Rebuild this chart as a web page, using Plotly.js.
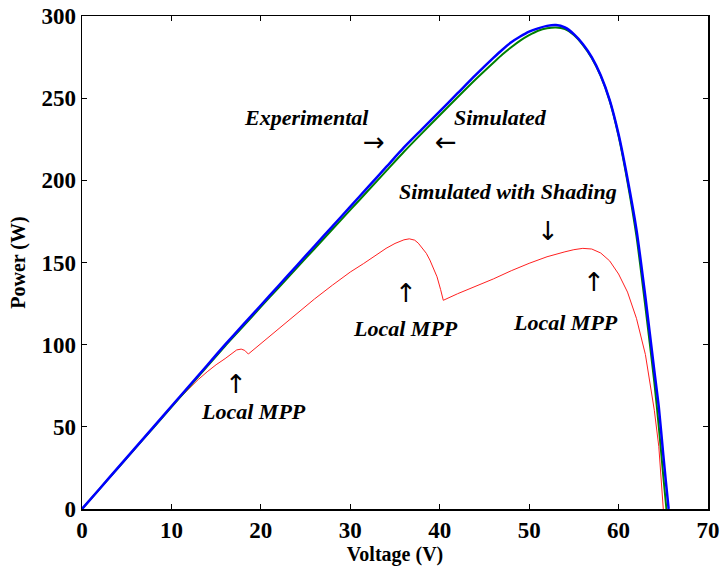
<!DOCTYPE html>
<html>
<head>
<meta charset="utf-8">
<script src="https://cdn.plot.ly/plotly-3.0.1.min.js"></script>
<style>html,body{margin:0;padding:0;background:#fff;}#chart{width:722px;height:568px;}</style>
</head>
<body>
<div id="chart"></div>
<script>
// Experimental (blue)
const expV = [0,2,4,6,8,10,12,14,16,18,20,22,24,26,28,30,32,34,36,38,40,42,44,46,47,48,49,50,51,52,53,54,55,56,57,58,59,60,61,62,63,64,64.5,65,65.3,65.6];
const expP = [0,12.5,25,37.5,50,62.5,75,87.5,100,112,124,136,148,160,172,184,196,208,220,231,242,253,264,274.5,279.5,284,287.5,290.5,292.5,294,294.5,293,289,283,275,264,249,228,201,170,129,84,62,33,16,0];
// Simulated (green)
const simV = [0,2,4,6,8,10,12,14,16,18,20,22,24,26,28,30,32,34,36,38,40,42,44,46,47,48,49,50,51,52,53,54,55,56,57,58,59,60,61,62,63,64,64.5,65,65.35];
const simP = [0,12.4,24.8,37.2,49.6,62,74.4,86.8,99.2,111,123,134.8,146.6,158.4,170.2,182,193.8,205.6,217.4,228.6,239.6,250.6,261.4,271.6,276.6,281,285,288.3,291,292.5,293,292,288.5,282.5,274.5,263.5,248.5,227,199,166,123,77,50,20,0];
// Simulated with shading (red)
const shdV = [0,2,4,6,8,10,11,12,13,14,15,16,17,17.3,17.8,18.2,18.6,20,22,24,26,28,29,30,31.5,33,34,35,36,36.6,37.2,37.6,38,38.5,38.9,39.3,39.7,40.1,40.4,42,44,46,48,50,52,53,54,55,56,57,58,59,60,61,62,63,63.5,64,64.5,64.8,65];
const shdP = [0,12.5,25,37.5,50,62.5,68,73.5,78.8,83.5,87.8,91.5,95.5,96.8,97.3,96.5,94.3,100.7,109.8,118.9,127.8,136.2,140.3,144.2,149.4,155.2,158.6,161.6,163.8,164.4,163.6,161.8,159.2,155.6,151.5,146.5,141.3,133.5,127,131,135.5,140,145,149.5,153.5,155.2,156.5,157.8,158.6,158.2,155.8,151,143,132,116,94,78,60,38,18,0];

const xTicks = [0,10,20,30,40,50,60,70];
const yTicks = [0,50,100,150,200,250,300];

const FONT = 'Liberation Serif, Times New Roman, serif';
const ARROWFONT = 'DejaVu Sans, sans-serif';

const traces = [
  {x: shdV, y: shdP, type: 'scatter', mode: 'lines', line: {color: '#ff2020', width: 1}, name: 'Simulated with Shading'},
  {x: simV, y: simP, type: 'scatter', mode: 'lines', line: {color: '#008000', width: 2, shape: 'spline', smoothing: 0.6}, name: 'Simulated'},
  {x: expV, y: expP, type: 'scatter', mode: 'lines', line: {color: '#0000ff', width: 2.5, shape: 'spline', smoothing: 0.6}, name: 'Experimental'}
];

const L = 82, R = 708, T = 16, B = 509;
function px(x) { return (x - L) / (R - L); }
function py(y) { return (B - y) / (B - T); }

// [text, centre-x px, centre-y px, size, isArrow]
const labels = [
  ['<b><i>Experimental</i></b>', 306, 118, 22, false],
  ['→', 374, 142, 26, true],
  ['<b><i>Simulated</i></b>', 500, 118, 22, false],
  ['←', 446, 142, 26, true],
  ['<b><i>Simulated with Shading</i></b>', 508, 191, 22, false],
  ['↓', 548, 231, 26, true],
  ['↑', 406, 293, 26, true],
  ['<b><i>Local MPP</i></b>', 405, 328, 22, false],
  ['↑', 594, 282, 26, true],
  ['<b><i>Local MPP</i></b>', 565, 322, 22, false],
  ['↑', 236, 384, 26, true],
  ['<b><i>Local MPP</i></b>', 253, 411, 22, false]
];

const layout = {
  width: 722, height: 568,
  margin: {l: L, r: 722 - R, t: T, b: 568 - B},
  paper_bgcolor: '#fff', plot_bgcolor: '#fff',
  showlegend: false,
  font: {family: FONT, color: '#000'},
  xaxis: {
    range: [0, 70], tickvals: xTicks, ticktext: xTicks.map(v => '<b>' + v + '</b>'),
    ticks: 'inside', ticklen: 5, tickwidth: 1, tickcolor: '#000',
    showline: true, linecolor: '#000', linewidth: 1.5, mirror: 'ticks',
    showgrid: false, zeroline: false,
    tickfont: {family: FONT, size: 23, color: '#000'},
    title: {text: '<b>Voltage (V)</b>', font: {family: FONT, size: 20, color: '#000'}, standoff: 0}
  },
  yaxis: {
    range: [0, 300], tickvals: yTicks, ticktext: yTicks.map(v => '<b>' + v + '</b>'),
    ticks: 'inside', ticklen: 5, tickwidth: 1, tickcolor: '#000',
    showline: true, linecolor: '#000', linewidth: 1.5, mirror: 'ticks',
    showgrid: false, zeroline: false,
    tickfont: {family: FONT, size: 23, color: '#000'},
    title: {text: '<b>Power (W)</b>', font: {family: FONT, size: 20, color: '#000'}, standoff: 10}
  },
  annotations: labels.map(l => ({
    xref: 'paper', yref: 'paper', x: px(l[1]), y: py(l[2]), xanchor: 'center', yanchor: 'middle',
    text: l[0], showarrow: false,
    font: {family: l[4] ? ARROWFONT : FONT, size: l[3], color: '#000'}
  }))
};

Plotly.newPlot('chart', traces, layout, {displayModeBar: false, staticPlot: true});
</script>
</body>
</html>
